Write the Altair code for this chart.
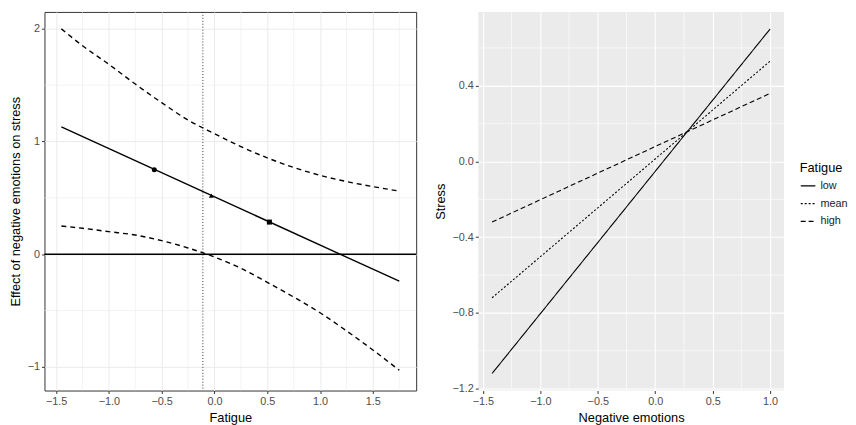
import altair as alt
import pandas as pd

FONT = "Liberation Sans"

# ---------- Left panel data ----------
fat_x = [-1.45, -1.25, -1.0, -0.75, -0.5, -0.25, 0.0, 0.25, 0.5, 0.75, 1.0, 1.25, 1.5, 1.75]
ci_upper = [2.0, 1.85, 1.685, 1.51, 1.345, 1.19, 1.07, 0.955, 0.855, 0.77, 0.70, 0.645, 0.60, 0.56]
ci_lower = [0.25, 0.23, 0.20, 0.17, 0.12, 0.055, -0.025, -0.125, -0.25, -0.38, -0.52, -0.68, -0.85, -1.03]
eff_x = [-1.45, 1.75]
eff_y = [1.13, -0.24]
pt_x = [-0.57, -0.03, 0.52]
pt_y = [0.75, 0.52, 0.285]
pt_kind = ["low", "mean", "high"]
jn_point = [-0.11]
zero_line = [0.0]
left_x_ticks = [-1.5, -1.0, -0.5, 0.0, 0.5, 1.0, 1.5]
left_y_ticks = [-1, 0, 1, 2]
left_x_minor = [-1.25, -0.75, -0.25, 0.25, 0.75, 1.25, 1.75]
left_y_minor = [-0.5, 0.5, 1.5]

# ---------- Right panel data ----------
neg_x = [-1.42, 1.0]
stress_low = [-1.12, 0.70]
stress_mean = [-0.72, 0.53]
stress_high = [-0.32, 0.36]
levels = ["low", "mean", "high"]
right_x_ticks = [-1.5, -1.0, -0.5, 0.0, 0.5, 1.0]
right_y_ticks = [-1.2, -0.8, -0.4, 0.0, 0.4]
right_x_minor = [-1.25, -0.75, -0.25, 0.25, 0.75]
right_y_minor = [-1.0, -0.6, -0.2, 0.2, 0.6]

LW, RW, H = 377, 310, 384

# ---------- Left chart ----------
lx = alt.Scale(domain=[-1.61, 1.91], nice=False, zero=False)
ly = alt.Scale(domain=[-1.21, 2.15], nice=False, zero=False)

ax_l = alt.Axis(title="Fatigue", values=left_x_ticks, format=".1f", grid=True,
                gridColor="#EBEBEB", gridWidth=1, domain=False)
ay_l = alt.Axis(title="Effect of negative emotions on stress", values=left_y_ticks,
                format="d", grid=True, gridColor="#EBEBEB", gridWidth=1, domain=False)

ci_df = pd.DataFrame({
    "x": fat_x * 2,
    "y": ci_upper + ci_lower,
    "band": ["upper"] * len(fat_x) + ["lower"] * len(fat_x),
})
eff_df = pd.DataFrame({"x": eff_x, "y": eff_y})
pt_df = pd.DataFrame({"x": pt_x, "y": pt_y, "kind": pt_kind})

minor_lx = alt.Chart(pd.DataFrame({"x": left_x_minor})).mark_rule(
    color="#EBEBEB", strokeWidth=0.6).encode(x=alt.X("x:Q", scale=lx, axis=ax_l))
minor_ly = alt.Chart(pd.DataFrame({"y": left_y_minor})).mark_rule(
    color="#EBEBEB", strokeWidth=0.6).encode(y=alt.Y("y:Q", scale=ly, axis=ay_l))
hline = alt.Chart(pd.DataFrame({"y": zero_line})).mark_rule(
    color="black", strokeWidth=1.4).encode(y=alt.Y("y:Q", scale=ly))
vline = alt.Chart(pd.DataFrame({"x": jn_point})).mark_rule(
    color="#333333", strokeWidth=1, strokeDash=[1, 2]).encode(x=alt.X("x:Q", scale=lx))
ci_lines = alt.Chart(ci_df).mark_line(color="black", strokeWidth=1.4, strokeDash=[5, 4],
                                      interpolate="monotone").encode(
    x=alt.X("x:Q", scale=lx), y=alt.Y("y:Q", scale=ly), detail="band:N")
eff_line = alt.Chart(eff_df).mark_line(color="black", strokeWidth=1.4).encode(
    x=alt.X("x:Q", scale=lx), y=alt.Y("y:Q", scale=ly))
pts = alt.Chart(pt_df).mark_point(filled=True, color="black", size=26, opacity=1).encode(
    x=alt.X("x:Q", scale=lx), y=alt.Y("y:Q", scale=ly),
    shape=alt.Shape("kind:N", scale=alt.Scale(domain=pt_kind,
                    range=["circle", "triangle-up", "square"]), legend=None))

left = alt.layer(minor_lx, minor_ly, hline, vline, ci_lines, eff_line, pts).properties(
    width=LW, height=H,
    view=alt.ViewBackground(fill="white", stroke="#333333", strokeWidth=1),
)

# ---------- Right chart ----------
rx = alt.Scale(domain=[-1.54, 1.12], nice=False, zero=False)
ry = alt.Scale(domain=[-1.21, 0.79], nice=False, zero=False)
ax_r = alt.Axis(title="Negative emotions", values=right_x_ticks, format=".1f", grid=True,
                gridColor="white", gridWidth=1.1, domain=False)
ay_r = alt.Axis(title="Stress", values=right_y_ticks, format=".1f", grid=True,
                gridColor="white", gridWidth=1.1, domain=False)

line_df = pd.DataFrame({
    "x": neg_x * 3,
    "y": stress_low + stress_mean + stress_high,
    "Fatigue": ["low"] * 2 + ["mean"] * 2 + ["high"] * 2,
})

minor_rx = alt.Chart(pd.DataFrame({"x": right_x_minor})).mark_rule(
    color="white", strokeWidth=0.6).encode(x=alt.X("x:Q", scale=rx, axis=ax_r))
minor_ry = alt.Chart(pd.DataFrame({"y": right_y_minor})).mark_rule(
    color="white", strokeWidth=0.6).encode(y=alt.Y("y:Q", scale=ry, axis=ay_r))
lines_r = alt.Chart(line_df).mark_line(color="black", strokeWidth=1.1).encode(
    x=alt.X("x:Q", scale=rx),
    y=alt.Y("y:Q", scale=ry),
    strokeDash=alt.StrokeDash(
        "Fatigue:N",
        scale=alt.Scale(domain=levels, range=[[1, 0], [2, 2], [5, 3]]),
        legend=alt.Legend(
            title="Fatigue", orient="none", legendX=RW + 16, legendY=152,
            symbolType="stroke", symbolStrokeColor="black", symbolStrokeWidth=1.3,
            symbolSize=220, titleFontWeight="normal", titleFontSize=13,
            labelFontSize=11, labelColor="#222222", titleColor="black",
            rowPadding=4, titlePadding=3, labelOffset=4, titleFont=FONT, labelFont=FONT,
            padding=0,
        ),
    ),
)

right = alt.layer(minor_rx, minor_ry, lines_r).properties(
    width=RW, height=H,
    view=alt.ViewBackground(fill="#EBEBEB", stroke="transparent", strokeWidth=0),
)

chart = alt.hconcat(left, right, spacing=16).resolve_legend(
    strokeDash="independent", shape="independent"
).properties(padding=0).configure_axis(
    labelFont=FONT, titleFont=FONT, labelFontSize=11, titleFontSize=13,
    labelColor="#4D4D4D", titleColor="black", titleFontWeight="normal",
    tickColor="#333333", tickSize=3, labelPadding=2, titlePadding=5,
).configure_view(stroke="transparent")

chart.save("out.html", embed_options={"renderer": "svg", "actions": False})
